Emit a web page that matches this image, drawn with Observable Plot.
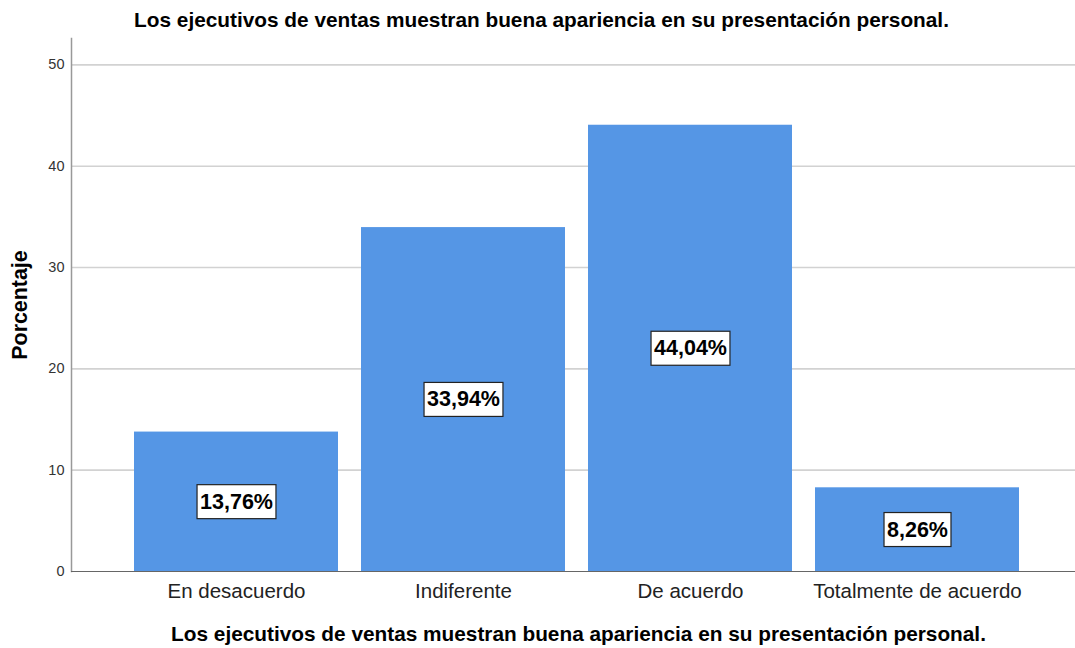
<!DOCTYPE html>
<html>
<head>
<meta charset="utf-8">
<script src="https://cdn.jsdelivr.net/npm/d3@7"></script>
<script src="https://cdn.jsdelivr.net/npm/@observablehq/plot@0.6"></script>
<style>
  html, body { margin: 0; padding: 0; background: #fff; }
  svg { font-family: "Liberation Sans", Arial, sans-serif; }
</style>
</head>
<body>
<div id="chart"></div>
<script>
const categories = ["En desacuerdo", "Indiferente", "De acuerdo", "Totalmente de acuerdo"];
const percentages = [13.76, 33.94, 44.04, 8.26];
const yTicks = [0, 10, 20, 30, 40, 50];
const chartTitle = "Los ejecutivos de ventas muestran buena apariencia en su presentación personal.";
const xTitle = "Los ejecutivos de ventas muestran buena apariencia en su presentación personal.";
const yTitle = "Porcentaje";

const data = categories.map((c, i) => ({category: c, value: percentages[i]}));
const fmt = v => v.toFixed(2).replace(".", ",") + "%";

const plot = Plot.plot({
  width: 1075,
  height: 648,
  marginTop: 38,
  marginBottom: 77,
  marginLeft: 71,
  marginRight: 0,
  style: {fontFamily: '"Liberation Sans", Arial, sans-serif', background: "#fff"},
  x: {domain: categories, paddingInner: 0.1, paddingOuter: 0.255, align: 0.534, label: null},
  y: {domain: [0, 52.6], label: null},
  marks: [
    Plot.gridY(yTicks.filter(t => t > 0), {stroke: "#d2d2d2", strokeOpacity: 1, strokeWidth: 1.6}),
    Plot.barY(data, {x: "category", y: "value", fill: "#5596e5"}),
    Plot.axisY(yTicks, {tickSize: 0, tickPadding: 7, fontSize: 14.5, fill: "#333", label: null}),
    Plot.axisX({tickSize: 0, tickPadding: 12, fontSize: 20.5, fill: "#222", label: null}),
    Plot.frame({anchor: "left", stroke: "#999", strokeWidth: 1.5}),
    Plot.ruleY([0], {stroke: "#666", strokeWidth: 1.2}),
    Plot.text(data, {x: "category", y: d => d.value / 2, text: d => fmt(d.value), fontSize: 21.5, fontWeight: "bold", fill: "#000"}),
    Plot.text([chartTitle], {frameAnchor: "top", lineAnchor: "middle", dy: -18, dx: -32, fontSize: 20.8, fontWeight: "bold", fill: "#000"}),
    Plot.text([xTitle], {frameAnchor: "bottom", lineAnchor: "middle", dy: 63, dx: 5, fontSize: 20.8, fontWeight: "bold", fill: "#000"}),
    Plot.text([yTitle], {frameAnchor: "left", textAnchor: "middle", lineAnchor: "middle", dx: -51, rotate: -90, fontSize: 21.4, fontWeight: "bold", fill: "#000"})
  ]
});
document.getElementById("chart").appendChild(plot);

// draw white boxes behind the value labels
plot.querySelectorAll("text").forEach(t => {
  if (!/%$/.test(t.textContent)) return;
  const b = t.getBBox();
  const r = document.createElementNS("http://www.w3.org/2000/svg", "rect");
  r.setAttribute("x", b.x - 3);
  r.setAttribute("y", b.y + b.height / 2 - 17);
  r.setAttribute("width", b.width + 6);
  r.setAttribute("height", 34);
  r.setAttribute("fill", "#fff");
  r.setAttribute("stroke", "#222");
  r.setAttribute("stroke-width", 1.2);
  const tr = t.getAttribute("transform");
  if (tr) r.setAttribute("transform", tr);
  t.parentNode.insertBefore(r, t);
});
</script>
</body>
</html>
